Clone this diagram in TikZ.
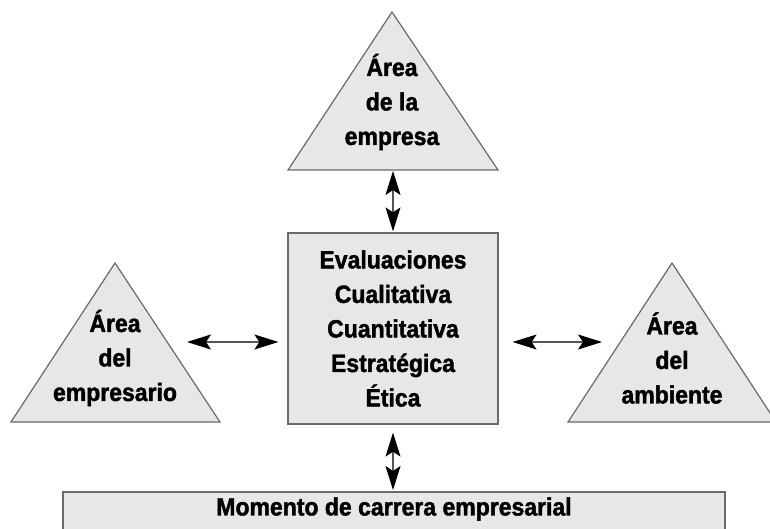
\documentclass[tikz,border=0pt]{standalone}
\usepackage{fontspec}
\setmainfont{Liberation Sans}[FakeStretch=0.92,BoldFeatures={FakeBold=1.6}]
\usetikzlibrary{arrows.meta}
\definecolor{panel}{HTML}{E6E7E9}
\definecolor{rim}{HTML}{6A6A6A}
\definecolor{shaft}{HTML}{555555}

\begin{document}
\begin{tikzpicture}[x=1pt,y=-1pt,
  area/.style={draw=rim,fill=panel,line width=1.2pt},
  lbl/.style={align=center,inner sep=0pt,font=\fontsize{25}{34.5}\selectfont\bfseries},
  link/.style={{Stealth[length=24pt,width=15pt,inset=5pt,color=black]}-{Stealth[length=24pt,width=15pt,inset=5pt,color=black]},
    draw=shaft,line width=1.3pt}]
\useasboundingbox (0,0) rectangle (770,529);
\clip (0,0) rectangle (770,529);
% three areas
\draw[area] (392,12) -- (498,170) -- (288,170) -- cycle;
\node[lbl] (empresa) at (392,102) {Área\\de la\\empresa};
\draw[area] (115,263) -- (220,422) -- (11,422) -- cycle;
\node[lbl] (empresario) at (115,358) {Área\\del\\empresario};
\draw[area] (672,263) -- (776,422) -- (568,422) -- cycle;
\node[lbl] (ambiente) at (672,358) {Área\\del\\ambiente};
% evaluations
\node[area,lbl,minimum width=210pt,minimum height=191pt] (eval) at (393,328.5)
  {Evaluaciones\\Cualitativa\\Cuantitativa\\Estratégica\\Ética};
% career
\draw[area] (63,492) rectangle (725,545);
\node[lbl] (carrera) at (394,509) {Momento de carrera empresarial};
\coordinate (t_base) at (393,170);
\coordinate (b_top) at (393,492);
\coordinate (l_end) at (187,342);
\coordinate (r_end) at (602,342);
\draw[link,shorten <=1pt,shorten >=1pt] (t_base) -- (eval.north);
\draw[link,shorten <=8pt,shorten >=2pt] (eval.south) -- (b_top);
\draw[link,shorten >=9pt] (l_end) -- (l_end -| eval.west);
\draw[link,shorten >=14pt] (r_end) -- (r_end -| eval.east);
\end{tikzpicture}
\end{document}
